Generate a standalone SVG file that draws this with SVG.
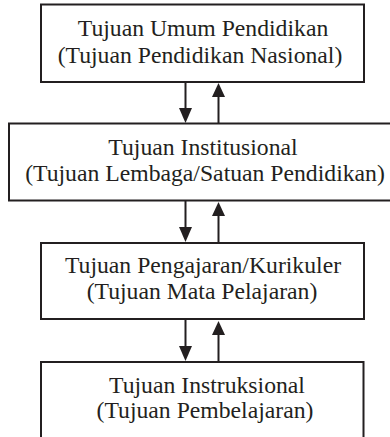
<svg xmlns="http://www.w3.org/2000/svg" width="390" height="437" viewBox="0 0 390 437">
<defs>
<style>
.box{fill:#fff;stroke:#231f20;stroke-width:2}
.c{stroke:#231f20;stroke-width:2;fill:none}
.h{fill:#231f20}
</style>
</defs>
<rect width="390" height="437" fill="#fff"/>
<g id="connectors">
<line class="c" x1="185.5" y1="82" x2="185.5" y2="110"/>
<polygon class="h" points="179,108 192,108 185.5,123"/>
<line class="c" x1="218.5" y1="96" x2="218.5" y2="123.5"/>
<polygon class="h" points="212,97 225,97 218.5,83"/>
<line class="c" x1="185.5" y1="200.5" x2="185.5" y2="229"/>
<polygon class="h" points="179,227 192,227 185.5,242"/>
<line class="c" x1="218.5" y1="215" x2="218.5" y2="243"/>
<polygon class="h" points="212,216 225,216 218.5,202"/>
<line class="c" x1="185.5" y1="319" x2="185.5" y2="348"/>
<polygon class="h" points="179,346 192,346 185.5,361"/>
<line class="c" x1="218.5" y1="334" x2="218.5" y2="362"/>
<polygon class="h" points="212,335 225,335 218.5,321"/>
</g>
<g font-family="Liberation Serif, Times New Roman, serif" font-size="23.7" fill="#231f20" text-anchor="middle">
<g id="node1">
<rect class="box" x="41" y="4.5" width="323" height="77.5"/>
<text x="203" y="36">Tujuan Umum Pendidikan</text>
<text x="200" y="63">(Tujuan Pendidikan Nasional)</text>
</g>
<g id="node2">
<rect class="box" x="9" y="123.5" width="390" height="77"/>
<text x="203" y="155">Tujuan Institusional</text>
<text x="205" y="181">(Tujuan Lembaga/Satuan Pendidikan)</text>
</g>
<g id="node3">
<rect class="box" x="41" y="243" width="323" height="76"/>
<text x="203" y="273">Tujuan Pengajaran/Kurikuler</text>
<text x="202" y="299">(Tujuan Mata Pelajaran)</text>
</g>
<g id="node4">
<rect class="box" x="41" y="362" width="322.5" height="90"/>
<text x="207" y="393">Tujuan Instruksional</text>
<text x="205" y="418">(Tujuan Pembelajaran)</text>
</g>
</g>
</svg>
